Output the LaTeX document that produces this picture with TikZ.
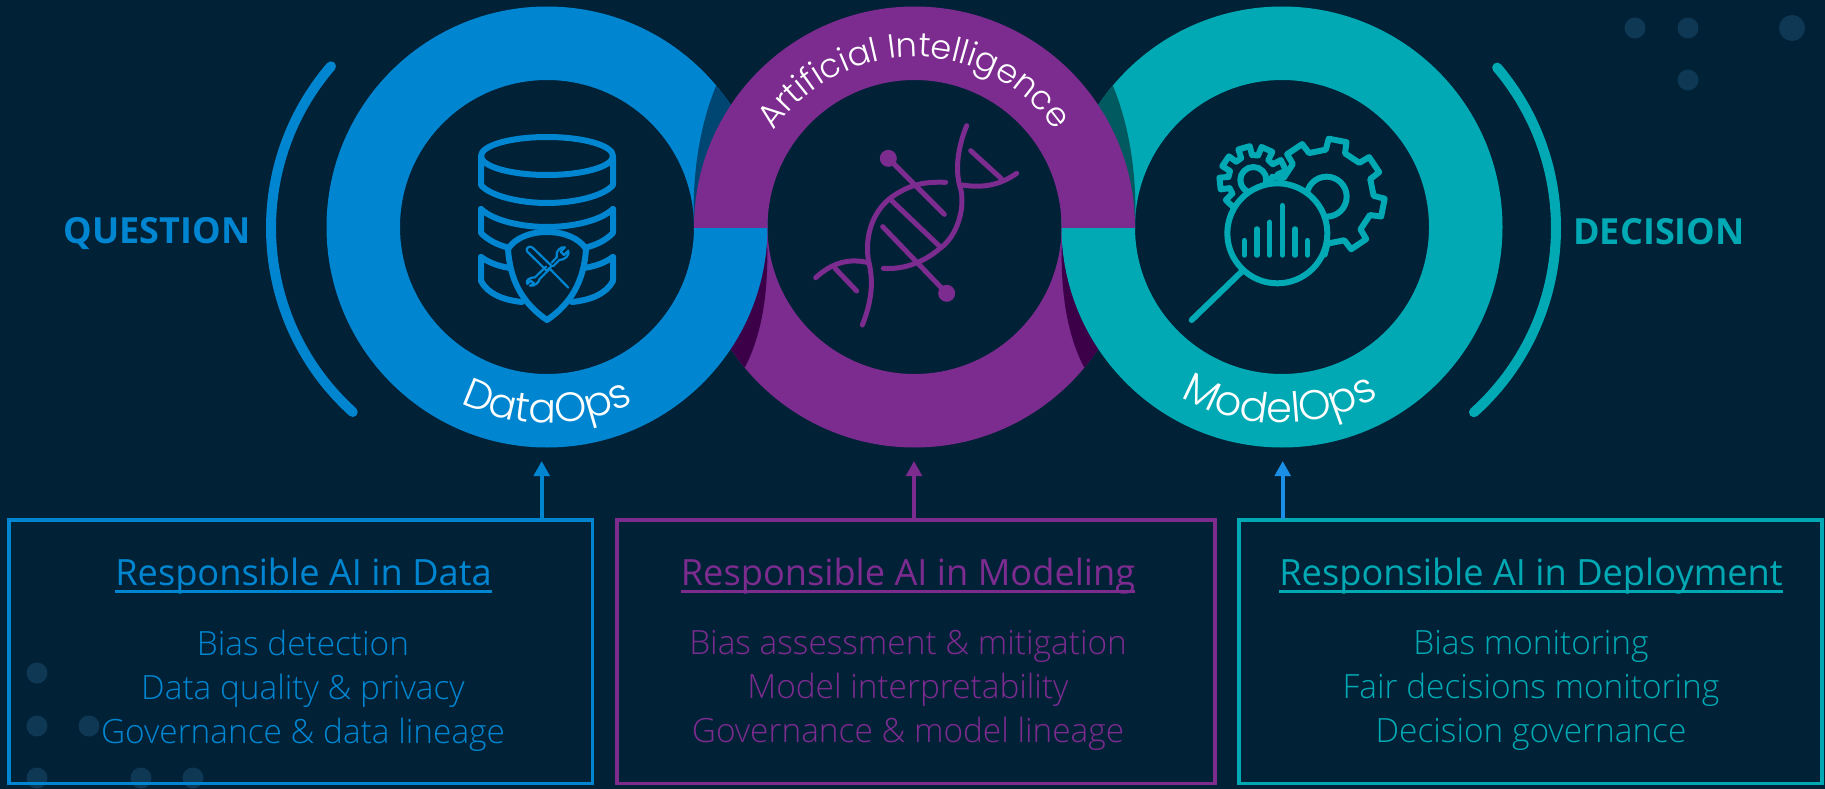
\documentclass[tikz,border=0pt]{standalone}
\usepackage{fontspec}
\usetikzlibrary{arrows.meta,decorations.text}
\setmainfont{Open Sans}
\newfontfamily\lightf{Open Sans Light}
\newfontfamily\ringf{Poppins Light}
\definecolor{bgc}{HTML}{012137}
\definecolor{dotc}{HTML}{0F3855}
\definecolor{bluec}{HTML}{0086D1}
\definecolor{purplec}{HTML}{7C2B8F}
\definecolor{tealc}{HTML}{00A9B3}
\definecolor{dkblue}{HTML}{004672}
\definecolor{dkteal}{HTML}{005A60}
\definecolor{dkpurple}{HTML}{3C0049}
\definecolor{arrowb}{HTML}{1B8FE6}
\newcommand{\headul}[1]{\setbox0=\hbox{#1}\rlap{\rule[-8pt]{\wd0}{2.6pt}}\box0}
\tikzset{
  dotm/.style={fill=dotc},
  infobox/.style={draw=#1,line width=3.8pt,fill=none},
  headtext/.style={text=#1,font=\fontsize{36.2}{42}\selectfont,anchor=base,inner sep=0pt},
  bodytext/.style={text=#1,font=\lightf\fontsize{33.4}{44}\selectfont,align=center,anchor=center,inner sep=0pt},
  sidetext/.style={text=#1,font=\fontsize{36}{40}\selectfont\bfseries,anchor=center,inner sep=0pt},
  upconn/.style={draw=#1,line width=4pt,-{Triangle[width=15.5pt,length=15pt]}},
  bracketc/.style={draw=#1,line width=10pt,line cap=round},
  ico/.style={draw=#1,line width=5pt,line cap=round,line join=round},
  icoh/.style={draw=#1,line width=6pt,line cap=round,line join=round},
}
\newcommand{\ringpath}[1]{(#1,227) circle[radius=220.5pt] (#1,227) circle[radius=147pt]}
\begin{document}
\begin{tikzpicture}[x=1pt,y=-1pt]
\useasboundingbox (0,0) rectangle (1825,789);
\fill[bgc] (0,0) rectangle (1825,789);
% dots
\foreach \x/\y/\r in {1635/28/10.5,1688/28/10.5,1688/80/10.5,1792/28/13,37/673/10.5,37/726/10.5,89/726/10.5,37/778/10.5,141/778/10.5,193/778/10.5}
  \fill[dotm] (\x,\y) circle[radius=\r pt];
% middle ring, lower half
\begin{scope}
  \clip (600,227) rectangle (1230,460);
  \fill[purplec,even odd rule] \ringpath{914.5};
  \begin{scope}[even odd rule]
    \clip \ringpath{914.5};
    \fill[dkpurple] (767,227) -- (767,240) .. controls (769,290) and (762,335) .. (745,367) -- (700,367) -- (700,227) -- cycle;
    \fill[dkpurple] (1062,227) -- (1062,240) .. controls (1060,290) and (1067,335) .. (1084,367) -- (1130,367) -- (1130,227) -- cycle;
  \end{scope}
\end{scope}
% side rings
\fill[bluec,even odd rule] \ringpath{547};
\fill[tealc,even odd rule] \ringpath{1282};
\begin{scope}[even odd rule]
  \clip \ringpath{547};
  \fill[dkblue] (716,86) .. controls (698,130) and (692,180) .. (694,227) -- (765,227) -- (765,86) -- cycle;
\end{scope}
\begin{scope}[even odd rule]
  \clip \ringpath{1282};
  \fill[dkteal] (1113,86) .. controls (1131,130) and (1137,180) .. (1135,227) -- (1064,227) -- (1064,86) -- cycle;
\end{scope}
% middle ring, upper half
\begin{scope}
  \clip (600,0) rectangle (1230,227);
  \fill[purplec,even odd rule] \ringpath{914.5};
\end{scope}
% ring labels
\path[decorate,decoration={text along path,text align=center,text={|\color{white}\ringf\fontsize{33.5}{44}\selectfont|Artificial Intelligence}}]
  (914.5,227) ++(152:170pt) arc[start angle=152,end angle=28,radius=170pt];
\path[decorate,decoration={text along path,text align=center,text={|\color{white}\ringf\fontsize{41}{44}\selectfont|DataOps}}]
  (547,227) ++(235:196pt) arc[start angle=235,end angle=305,radius=196pt];
\path[decorate,decoration={text along path,text align=center,text={|\color{white}\ringf\fontsize{41.5}{44}\selectfont|ModelOps}}]
  (1280,227) ++(235:196pt) arc[start angle=235,end angle=305,radius=196pt];
% brackets
\draw[bracketc=bluec] (519,228) ++(139.3:248pt) arc[start angle=139.3,end angle=227.9,radius=248pt];
\draw[bracketc=tealc] (1308,228) ++(40.3:248pt) arc[start angle=40.3,end angle=-48,radius=248pt];
\node[sidetext=bluec] (question) at (157,234) {QUESTION};
\node[sidetext=tealc] (decision) at (1659,232) {DECISION};
% database icon
\draw[icoh=bluec] (547,156) ellipse[x radius=66pt,y radius=19pt];
\draw[icoh=bluec] (481,156) -- (481,185) .. controls (490,196) and (520,203) .. (547,203) .. controls (574,203) and (604,196) .. (613,185) -- (613,156);
\draw[icoh=bluec] (481,209) .. controls (495,222) and (525,227) .. (547,227) .. controls (569,227) and (599,222) .. (613,209);
\draw[icoh=bluec] (481,209) -- (481,233) .. controls (488,240) and (497,245) .. (510,248);
\draw[icoh=bluec] (613,209) -- (613,233) .. controls (606,240) and (597,245) .. (584,248);
\draw[icoh=bluec] (481,257) .. controls (488,262) and (497,266) .. (510,268);
\draw[icoh=bluec] (613,257) .. controls (606,262) and (597,266) .. (584,268);
\draw[icoh=bluec] (481,257) -- (481,281) .. controls (488,294) and (503,300) .. (522,302);
\draw[icoh=bluec] (613,257) -- (613,281) .. controls (606,294) and (591,300) .. (572,302);
\draw[icoh=bluec,fill=bgc] (547,232) .. controls (530,232) and (515,238) .. (508,249) .. controls (510,280) and (522,303) .. (547,320) .. controls (572,303) and (584,280) .. (586,249) .. controls (579,238) and (564,232) .. (547,232) -- cycle;
% tools in shield
\begin{scope}[shift={(440,120)},x=0.33333pt,y=-0.33333pt]
  \draw[draw=bluec,line width=2.2pt,line cap=round,line join=round]
    (385,503) -- (328,445) (320,452) -- (262,395) .. controls (255,385) and (268,375) .. (278,383) -- (335,438) -- (320,452)
    (318,440) -- (285,472) .. controls (270,472) and (255,480) .. (262,492) -- (272,482) -- (282,490) -- (270,497) .. controls (285,500) and (298,485) .. (298,478) -- (328,448)
    (335,428) -- (350,412) .. controls (345,395) and (362,378) .. (375,382) -- (362,395) -- (372,405) -- (385,392) .. controls (390,405) and (375,420) .. (358,420) -- (340,438);
\end{scope}
% DNA icon
\begin{scope}[shift={(800,110)},x=0.33333pt,y=-0.33333pt]
  \draw[ico=purplec] (500,47) .. controls (470,120) and (465,190) .. (483,240) .. controls (495,300) and (470,380) .. (420,415) .. controls (380,450) and (320,480) .. (250,475);
  \draw[ico=purplec] (187,645) .. controls (225,550) and (215,490) .. (205,450) .. controls (195,380) and (215,310) .. (270,265) .. controls (330,220) and (380,215) .. (437,217);
  \draw[ico=purplec] (487,225) .. controls (550,235) and (600,225) .. (650,190);
  \draw[ico=purplec] (205,458) .. controls (150,445) and (100,455) .. (47,503);
  \draw[ico=purplec] (512,122) -- (603,205);
  \draw[ico=purplec] (105,475) -- (170,543);
  \draw[ico=purplec] (265,145) -- (433,313);
  \draw[ico=purplec] (440,550) -- (248,350);
  \draw[ico=purplec] (275,272) -- (420,410);
  \fill[purplec] (265,145) circle[radius=8.5pt];
  \fill[purplec] (440,550) circle[radius=8.5pt];
\end{scope}
% gears icon
\begin{scope}[shift={(1190,120)},x=0.33333pt,y=-0.33333pt]
  \draw[icoh=tealc] (190,180) circle[radius=13pt];
  \begin{scope}[shift={(190,180)}]
    \draw[icoh=tealc]
      (13:25pt) \foreach \a in {26,66,...,346} { -- (\a-13:25pt) -- (\a-10:34pt) -- (\a+10:34pt) -- (\a+13:25pt) } -- cycle;
  \end{scope}
  \begin{scope}[shift={(410,230)}]
    \draw[icoh=tealc,fill=bgc]
      (22:47pt) \foreach \a in {34,79,...,349} { -- (\a-12:47pt) -- (\a-9:58pt) -- (\a+9:58pt) -- (\a+12:47pt) } -- cycle;
    \draw[icoh=tealc] (0,0) circle[radius=20pt];
  \end{scope}
  \draw[icoh=tealc,fill=bgc] (262,340) circle[radius=50pt];
  \draw[icoh=tealc] (155,455) -- (5,600);
  \foreach \x/\t in {163/362,201/327,239/307,277/257,315/327,352/362}
    \draw[draw=tealc,line width=5.5pt,line cap=round] (\x,405) -- (\x,\t);
\end{scope}
% boxes
\draw[infobox=bluec] (9,520) rectangle (592.5,783.5);
\draw[infobox=purplec] (617,520) rectangle (1215,783.5);
\draw[infobox=tealc] (1239,520) rectangle (1822,783.5);
\node[headtext=bluec] (h1) at (303.5,585) {\headul{Responsible AI in Data}};
\node[bodytext=bluec] (b1) at (303,690.5) {Bias detection\\Data quality \& privacy\\Governance \& data lineage};
\node[headtext=purplec] (h2) at (908,585) {\headul{Responsible AI in Modeling}};
\node[bodytext=purplec] (b2) at (908,690.5) {Bias assessment \& mitigation\\Model interpretability\\Governance \& model lineage};
\node[headtext=tealc] (h3) at (1531,585) {\headul{Responsible AI in Deployment}};
\node[bodytext=tealc] (b3) at (1531,690.5) {Bias monitoring\\Fair decisions monitoring\\Decision governance};
% connectors
\coordinate (a1s) at (541.7,519);
\coordinate (a1e) at (541.7,461);
\coordinate (a2s) at (914,519);
\coordinate (a2e) at (914,461);
\coordinate (a3s) at (1282.7,519);
\coordinate (a3e) at (1282.7,461);
\draw[upconn=bluec] (a1s) -- (a1e);
\draw[upconn=purplec] (a2s) -- (a2e);
\draw[upconn=arrowb] (a3s) -- (a3e);
\end{tikzpicture}
\end{document}
